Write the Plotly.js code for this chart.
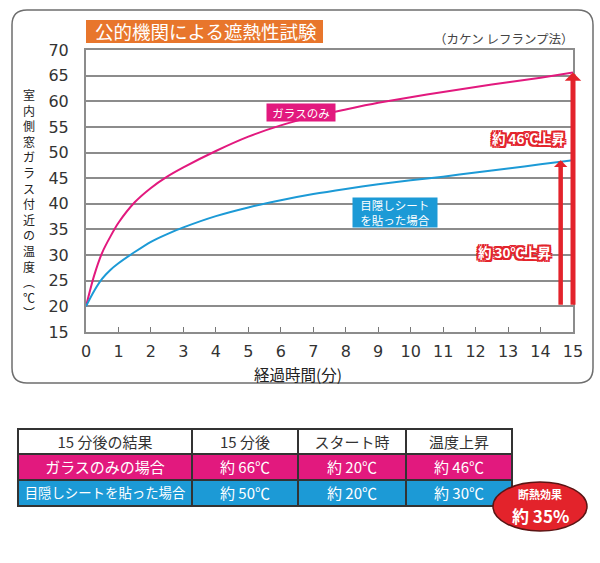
<!DOCTYPE html>
<html>
<head>
<meta charset="utf-8">
<script src="https://cdn.plot.ly/plotly-3.0.1.min.js"></script>
<style>html,body{margin:0;padding:0;background:#fff;}#chart{width:600px;height:563px;}</style>
</head>
<body>
<div id="chart"></div>
<script>
// ---- data ----
const timeMin   = [0, 0.25, 0.5, 0.75, 1, 1.5, 2, 2.5, 3, 4, 5, 6, 7, 8, 9, 10, 11, 12, 13, 14, 15];
const glassOnly = [20, 26.0, 30.5, 33.6, 36.3, 40.3, 43.1, 45.3, 47.1, 50.3, 53.1, 55.3, 57.0, 58.4, 59.7, 60.8, 61.8, 62.8, 63.7, 64.6, 65.6];
const withSheet = [20, 23.0, 25.4, 27.1, 28.4, 30.6, 32.6, 34.1, 35.4, 37.6, 39.3, 40.7, 41.9, 42.9, 43.8, 44.6, 45.3, 46.1, 46.9, 47.7, 48.5];
const xTickVals = [0,1,2,3,4,5,6,7,8,9,10,11,12,13,14,15];
const yTickVals = [15,20,25,30,35,40,45,50,55,60,65,70];
const seriesNames = ['ガラスのみ', '目隠しシート<br>を貼った場合'];
const riseLabels = ['約 46℃上昇', '約 30℃上昇'];
const tableHeader = ['15 分後の結果', '15 分後', 'スタート時', '温度上昇'];
const caseLabels  = ['ガラスのみの場合', '目隠しシートを貼った場合'];
const after15     = ['約 66℃', '約 50℃'];
const atStart     = ['約 20℃', '約 20℃'];
const tempRise    = ['約 46℃', '約 30℃'];
const chartTitle = '公的機関による遮熱性試験';
const methodNote = '（カケン レフランプ法）';
const yTitleChars = ['室','内','側','窓','ガ','ラ','ス','付','近','の','温','度','︵','℃','︶'];
const xTitle = '経過時間(分)';
const effectTitle = '断熱効果';
const effectValue = '約 35%';

// ---- styling ----
const W = 600, H = 563;
const px = x => x / W;
const py = y => 1 - y / H;
const PINK = '#e2197e', BLUE = '#1c9ad6', RED = '#e3232b', ORANGE = '#e8762c', GRID = '#8c8c8c';
const JP = '"Noto Sans CJK JP", "Noto Sans", sans-serif';
const NUM = '"DejaVu Sans", sans-serif';
const redOutline = ['-2px -2px 0 '+RED,'2px -2px 0 '+RED,'-2px 2px 0 '+RED,'2px 2px 0 '+RED,
                    '0 2px 0 '+RED,'0 -2px 0 '+RED,'2px 0 0 '+RED,'-2px 0 0 '+RED].join(', ');

const traces = [
  { x: timeMin, y: glassOnly, type: 'scatter', mode: 'lines', name: 'ガラスのみ',
    line: { color: PINK, width: 2, shape: 'spline', smoothing: 0.8 }, hoverinfo: 'skip' },
  { x: timeMin, y: withSheet, type: 'scatter', mode: 'lines', name: '目隠しシートを貼った場合',
    line: { color: BLUE, width: 2, shape: 'spline', smoothing: 0.8 }, hoverinfo: 'skip' },
  { type: 'table',
    domain: { x: [px(18), px(512)], y: [py(512), py(429)] },
    columnwidth: [174, 106, 108, 106],
    header: { values: tableHeader, height: 25, align: 'center',
      fill: { color: '#ffffff' }, line: { color: '#333333', width: 1.5 },
      font: { family: JP, size: 15, color: '#333333' } },
    cells: { values: [caseLabels, after15, atStart, tempRise], height: 26, align: 'center',
      fill: { color: [[PINK, BLUE],[PINK, BLUE],[PINK, BLUE],[PINK, BLUE]] },
      line: { color: '#333333', width: 1.5 },
      font: { family: JP, size: [[15, 13.4], [15, 15], [15, 15], [15, 15]], color: '#ffffff' } } }
];

const lastG = glassOnly[glassOnly.length - 1];
const lastS = withSheet[withSheet.length - 1];
const lastT = timeMin[timeMin.length - 1];

const annotations = [
  // title
  { xref: 'paper', yref: 'paper', x: px(206), y: py(31.5), text: chartTitle, showarrow: false,
    font: { family: JP, size: 18.5, color: '#ffffff' }, xanchor: 'center', yanchor: 'middle' },
  { xref: 'paper', yref: 'paper', x: px(576), y: py(39), text: methodNote, showarrow: false,
    font: { family: JP, size: 12.5, color: '#444444' }, xanchor: 'right', yanchor: 'middle' },
  // series labels
  { xref: 'paper', yref: 'paper', x: px(301), y: py(112.5), text: seriesNames[0], showarrow: false,
    bgcolor: PINK, width: 68, height: 17, borderpad: 0,
    font: { family: JP, size: 11.5, color: '#ffffff' }, xanchor: 'center', yanchor: 'middle' },
  { xref: 'paper', yref: 'paper', x: px(395), y: py(212), text: seriesNames[1], showarrow: false,
    bgcolor: BLUE, width: 84, height: 29, borderpad: 0,
    font: { family: JP, size: 11.5, color: '#ffffff' }, xanchor: 'center', yanchor: 'middle' },
  // rise arrows (tip at last values)
  { xref: 'x', yref: 'y', axref: 'x', ayref: 'y', x: lastT, y: lastG, ax: lastT, ay: 20,
    text: '', showarrow: true, arrowhead: 1, arrowsize: 0.55, arrowwidth: 5, arrowcolor: RED, standoff: 0 },
  { xref: 'x', yref: 'y', axref: 'x', ayref: 'y', x: lastT - 0.38, y: lastS, ax: lastT - 0.38, ay: 20,
    text: '', showarrow: true, arrowhead: 1, arrowsize: 0.5, arrowwidth: 4.5, arrowcolor: RED, standoff: 0 },
  { xref: 'paper', yref: 'paper', x: px(528), y: py(137.5), text: '<b>' + riseLabels[0] + '</b>', showarrow: false,
    font: { family: JP, size: 13.5, color: '#ffffff', shadow: redOutline }, xanchor: 'center', yanchor: 'middle' },
  { xref: 'paper', yref: 'paper', x: px(514.5), y: py(252.5), text: '<b>' + riseLabels[1] + '</b>', showarrow: false,
    font: { family: JP, size: 13.5, color: '#ffffff', shadow: redOutline }, xanchor: 'center', yanchor: 'middle' },
  // effect ellipse text
  { xref: 'paper', yref: 'paper', x: px(540), y: py(493.5), text: '<b>' + effectTitle + '</b>', showarrow: false,
    font: { family: JP, size: 11, color: '#ffffff' }, xanchor: 'center', yanchor: 'middle' },
  { xref: 'paper', yref: 'paper', x: px(540), y: py(515), text: '<b>' + effectValue + '</b>', showarrow: false,
    font: { family: JP, size: 17, color: '#ffffff' }, xanchor: 'center', yanchor: 'middle' },
  // x-axis title
  { xref: 'paper', yref: 'paper', x: px(298), y: py(373.5), text: xTitle, showarrow: false,
    font: { family: JP, size: 15.5, color: '#222222' }, xanchor: 'center', yanchor: 'middle' },
  // vertical y-axis title, one glyph per line
  { xref: 'paper', yref: 'paper', x: px(29), y: py(203), text: yTitleChars.join('<br>'), showarrow: false,
    font: { family: JP, size: 12, color: '#222222' }, xanchor: 'center', yanchor: 'middle', align: 'center' }
];

const r = 15, L = 12, T = 10, R = 593, B = 383;
const frame = `M ${px(L + r)},${py(T)} L ${px(R - r)},${py(T)} Q ${px(R)},${py(T)} ${px(R)},${py(T + r)} ` +
  `L ${px(R)},${py(B - r)} Q ${px(R)},${py(B)} ${px(R - r)},${py(B)} L ${px(L + r)},${py(B)} ` +
  `Q ${px(L)},${py(B)} ${px(L)},${py(B - r)} L ${px(L)},${py(T + r)} Q ${px(L)},${py(T)} ${px(L + r)},${py(T)} Z`;

const shapes = [
  { type: 'path', xref: 'paper', yref: 'paper', path: frame, line: { color: '#6e6e6e', width: 1.5 }, layer: 'below' },
  { type: 'rect', xref: 'paper', yref: 'paper', x0: px(86), x1: px(323), y0: py(43), y1: py(20),
    fillcolor: ORANGE, line: { width: 0 } },
  { type: 'circle', xref: 'paper', yref: 'paper', x0: px(493), x1: px(587), y0: py(531), y1: py(482),
    fillcolor: RED, line: { color: '#5a1414', width: 1.5 } }
];

const layout = {
  width: W, height: H,
  margin: { l: 0, r: 0, t: 0, b: 0 },
  paper_bgcolor: '#ffffff', plot_bgcolor: '#ffffff',
  showlegend: false,
  xaxis: { domain: [px(86), px(573)], range: [0, 15], tickvals: xTickVals, ticktext: xTickVals.map(String),
    showgrid: false, zeroline: false, showline: true, linecolor: GRID, linewidth: 2, mirror: true,
    ticks: 'inside', ticklen: 5, tickwidth: 1, tickcolor: '#777777', ticklabelstandoff: 4,
    tickfont: { family: NUM, size: 16, color: '#333333' } },
  yaxis: { domain: [py(332), py(50)], range: [15, 70], tickvals: yTickVals, ticktext: yTickVals.map(String),
    showgrid: true, gridcolor: GRID, gridwidth: 2, zeroline: false, showline: true, linecolor: GRID, linewidth: 2,
    mirror: true, ticks: '', ticklabelstandoff: 12,
    tickfont: { family: NUM, size: 16, color: '#333333' } },
  annotations: annotations,
  shapes: shapes
};

Plotly.newPlot('chart', traces, layout, { staticPlot: true, displayModeBar: false });
</script>
</body>
</html>
